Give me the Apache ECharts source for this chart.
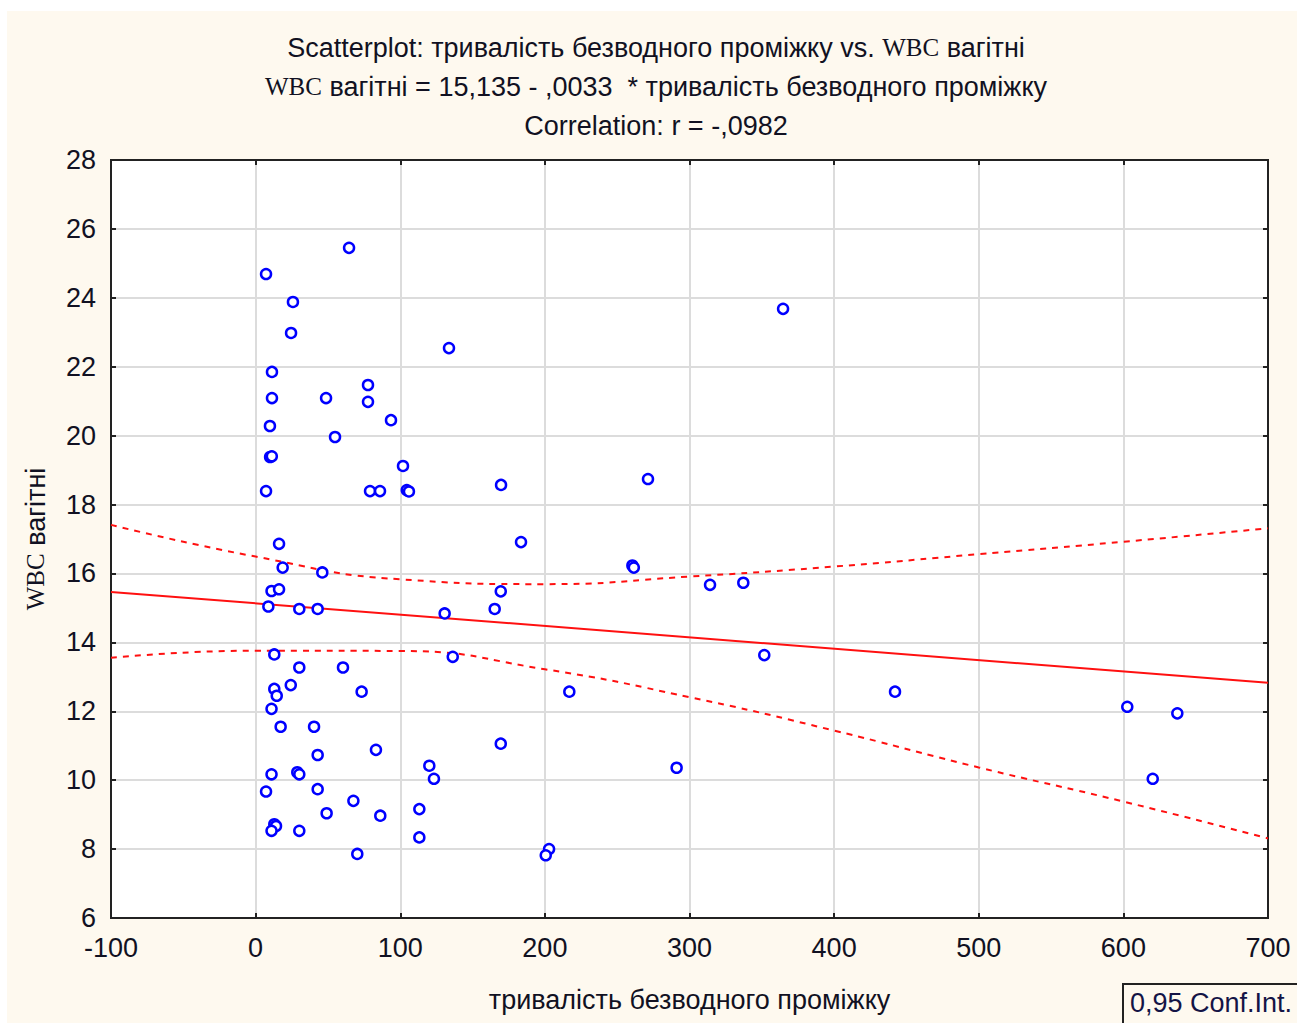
<!DOCTYPE html>
<html>
<head>
<meta charset="utf-8">
<script src="https://cdn.jsdelivr.net/npm/echarts@6/dist/echarts.min.js"></script>
<style>
html,body{margin:0;padding:0;background:#ffffff;}
#chart{position:absolute;left:7px;top:11px;width:1290px;height:1012px;background:#fef9ef;}
</style>
</head>
<body>
<div id="chart"></div>
<script>
// Data
var duration = [64.6,7.2,25.8,24.5,364.7,133.7,11.3,77.7,11.3,48.7,77.7,93.6,9.9,54.9,10,11.2,101.9,271.3,169.7,7.2,79.1,86,104.5,106,183.5,16.2,18.7,46.1,260.5,261.5,314.2,337.2,169.5,11,16.2,8.8,30.2,42.9,130.7,165.3,12.9,136.3,351.7,30.2,60.4,24.3,12.9,73.3,14.6,216.9,442.1,11,17.3,40.4,602.7,637.3,169.5,42.9,83.2,120.1,123.3,291.1,620.3,11,28.8,30.2,7.2,42.9,67.6,49.1,86.2,113.2,113.2,12.9,14.1,11,30.2,70.3,202.9,200.6];
var wbc = [25.45,24.69,23.88,22.98,23.68,22.54,21.85,21.47,21.09,21.09,20.98,20.45,20.28,19.96,19.38,19.40,19.12,18.74,18.57,18.39,18.39,18.39,18.42,18.38,16.91,16.86,16.17,16.03,16.23,16.17,15.67,15.73,15.48,15.49,15.54,15.04,14.97,14.97,14.84,14.97,13.65,13.58,13.63,13.27,13.27,12.76,12.65,12.57,12.45,12.57,12.57,12.07,11.55,11.55,12.13,11.94,11.06,10.73,10.88,10.42,10.04,10.36,10.04,10.17,10.23,10.17,9.67,9.74,9.40,9.04,8.97,9.16,8.34,8.72,8.67,8.53,8.53,7.86,8.00,7.82];
var fitX = [-100, 700];
var fitY = [15.465, 12.825];
var bandX = [-100, 0, 100, 200, 300, 400, 500, 600, 700];
var upperBand = [17.41, 16.49, 15.83, 15.69, 15.91, 16.20, 16.56, 16.92, 17.31];
var lowerBand = [13.55, 13.76, 13.75, 13.22, 12.41, 11.44, 10.37, 9.38, 8.31];
var xTicks = [-100, 0, 100, 200, 300, 400, 500, 600, 700];
var yTicks = [6, 8, 10, 12, 14, 16, 18, 20, 22, 24, 26, 28];

function pairs(xs, ys){ return xs.map(function(x,i){ return [x, ys[i]]; }); }

var NARROW = '"Liberation Sans Narrow", "Arial Narrow", "Liberation Sans", sans-serif';
var SERIF = '"Liberation Serif", "DejaVu Serif", serif';
var TXT = '#111122';

var chart = echarts.init(document.getElementById('chart'), null, {renderer:'svg'});
var axisLine = {show:true, onZero:false, lineStyle:{color:'#222', width:2}};
var axisTick = {show:true, inside:true, length:5, lineStyle:{color:'#222', width:2}};
chart.setOption({
  animation:false,
  backgroundColor:'#fef9ef',
  title:{
    text:'{a|Scatterplot: тривалість безводного проміжку vs. }{s|WBC}{a| вагітні}\n{s|WBC}{a| вагітні = 15,135 - ,0033  * тривалість безводного проміжку}\n{a|Correlation: r = -,0982}',
    left:644, top:12, textAlign:'center',
    textStyle:{
      fontWeight:'normal',
      rich:{
        a:{fontFamily:NARROW, fontSize:27, fontWeight:'normal', color:TXT, lineHeight:39},
        s:{fontFamily:SERIF, fontSize:25, fontWeight:'normal', color:TXT, lineHeight:39}
      }
    }
  },
  grid:{left:104, top:149, width:1157, height:758, show:true, backgroundColor:'#ffffff', borderColor:'#222', borderWidth:2},
  xAxis:[{
    type:'value', min:-100, max:700, interval:100, position:'bottom',
    name:'тривалість безводного проміжку', nameLocation:'middle', nameGap:68,
    nameTextStyle:{fontFamily:NARROW, fontSize:27, color:TXT},
    axisLabel:{fontFamily:NARROW, fontSize:27, color:TXT, margin:16},
    axisLine:axisLine, axisTick:axisTick,
    splitLine:{show:true, lineStyle:{color:'#dcdcdc', width:2}}
  },{
    type:'value', min:-100, max:700, interval:100, position:'top',
    axisLabel:{show:false}, axisLine:axisLine, axisTick:axisTick, splitLine:{show:false}
  }],
  yAxis:[{
    type:'value', min:6, max:28, interval:2, position:'left',
    name:'{s|WBC}{a| вагітні}', nameLocation:'middle', nameGap:62, nameRotate:90,
    nameTextStyle:{rich:{a:{fontFamily:NARROW, fontSize:27, color:TXT}, s:{fontFamily:SERIF, fontSize:25, color:TXT}}},
    axisLabel:{fontFamily:NARROW, fontSize:27, color:TXT, margin:15},
    axisLine:axisLine, axisTick:axisTick,
    splitLine:{show:true, lineStyle:{color:'#dcdcdc', width:2}}
  },{
    type:'value', min:6, max:28, interval:2, position:'right',
    axisLabel:{show:false}, axisLine:axisLine, axisTick:axisTick, splitLine:{show:false}
  }],
  series:[
    {type:'line', data:pairs(bandX, upperBand), smooth:true, symbol:'none', silent:true,
     lineStyle:{color:'#ff1010', width:2, type:[6,6]}, z:2},
    {type:'line', data:pairs(bandX, lowerBand), smooth:true, symbol:'none', silent:true,
     lineStyle:{color:'#ff1010', width:2, type:[6,6]}, z:2},
    {type:'line', data:pairs(fitX, fitY), symbol:'none', silent:true,
     lineStyle:{color:'#ff1010', width:2}, z:2},
    {type:'scatter', data:pairs(duration, wbc), symbol:'circle', symbolSize:10,
     itemStyle:{color:'#ffffff', borderColor:'#0000ff', borderWidth:2.5, opacity:1}, z:3}
  ],
  graphic:[
    {type:'rect', left:1115, top:972, shape:{width:200, height:60}, style:{fill:'#fef9ef', stroke:'#222', lineWidth:2}},
    {type:'text', left:1123, top:978, style:{text:'0,95 Conf.Int.', font:'27px '+NARROW, fill:'#141446'}}
  ]
});
</script>
</body>
</html>
